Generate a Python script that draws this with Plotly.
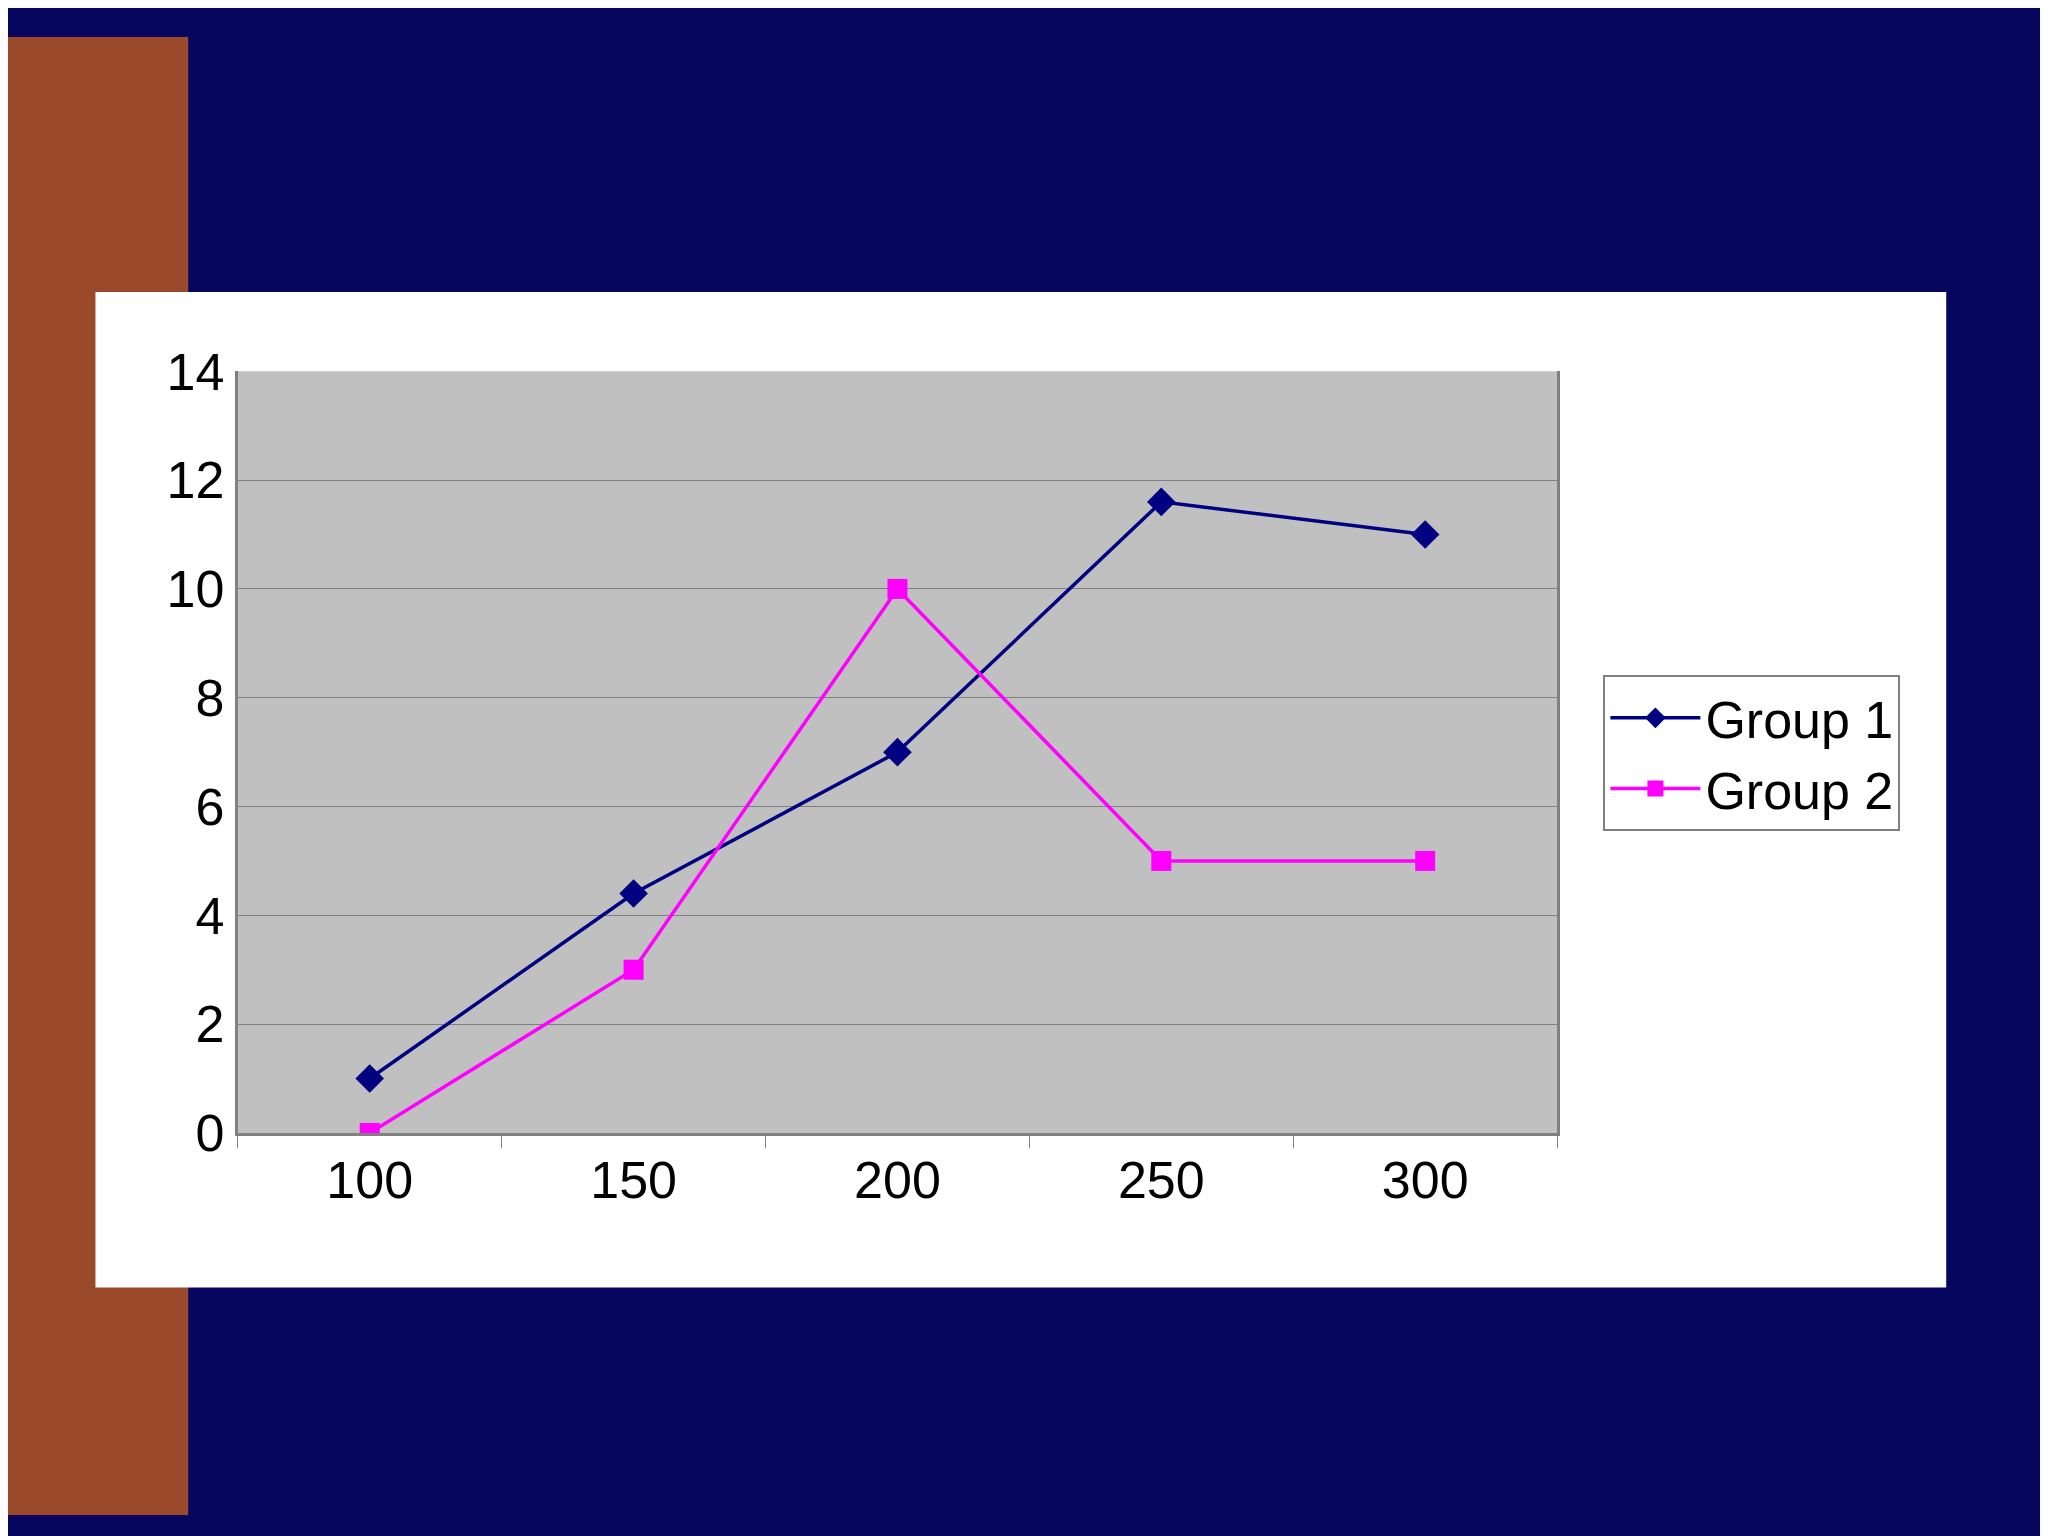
import plotly.graph_objects as go

categories = ["100", "150", "200", "250", "300"]
group1 = [1, 4.4, 7, 11.6, 11]
group2 = [0, 3, 10, 5, 5]

fig = go.Figure()
fig.add_trace(go.Scatter(x=categories, y=group1, name="Group 1", mode="lines+markers",
                         line=dict(color="#000080", width=3.5),
                         marker=dict(symbol="diamond", size=22, color="#000080")))
fig.add_trace(go.Scatter(x=categories, y=group2, name="Group 2", mode="lines+markers",
                         line=dict(color="#FF00FF", width=3.5),
                         marker=dict(symbol="square", size=20, color="#FF00FF")))

# slide background pieces
fig.add_shape(type="rect", xref="paper", yref="paper", x0=0, x1=0.088, y0=0, y1=1,
              fillcolor="#9a4a2a", line_width=0, layer="below")
fig.add_shape(type="rect", xref="paper", yref="paper", x0=0.0427, x1=0.9464, y0=0.1539, y1=0.8274,
              fillcolor="white", line_width=0, layer="below")
fig.add_shape(type="rect", xref="x domain", yref="y domain", x0=0, x1=1, y0=0, y1=1,
              fillcolor="#C0C0C0", line_width=0, layer="below")

font = dict(size=52, color="black", family="Liberation Sans")
fig.update_xaxes(type="category", range=[-0.5, 4.5], tickson="boundaries",
                 ticks="outside", ticklen=12, tickcolor="#808080",
                 showline=True, linecolor="#808080", linewidth=3, showgrid=False,
                 tickfont=font, domain=[0.1122, 0.7564])
fig.update_yaxes(range=[0, 14], dtick=2, showgrid=True, gridcolor="#808080", gridwidth=1,
                 showline=True, linecolor="#808080", linewidth=3, mirror=True, zeroline=False,
                 tickfont=font, domain=[0.2585, 0.7738])
fig.update_layout(width=2048, height=1536, paper_bgcolor="#06065e", plot_bgcolor="#C0C0C0",
                  margin=dict(l=0, r=0, t=0, b=0),
                  legend=dict(x=0.779, y=0.568, xanchor="left", yanchor="top", itemwidth=90,
                              bgcolor="white", bordercolor="#808080", borderwidth=2,
                              font=font))
fig.write_html("out.html")
